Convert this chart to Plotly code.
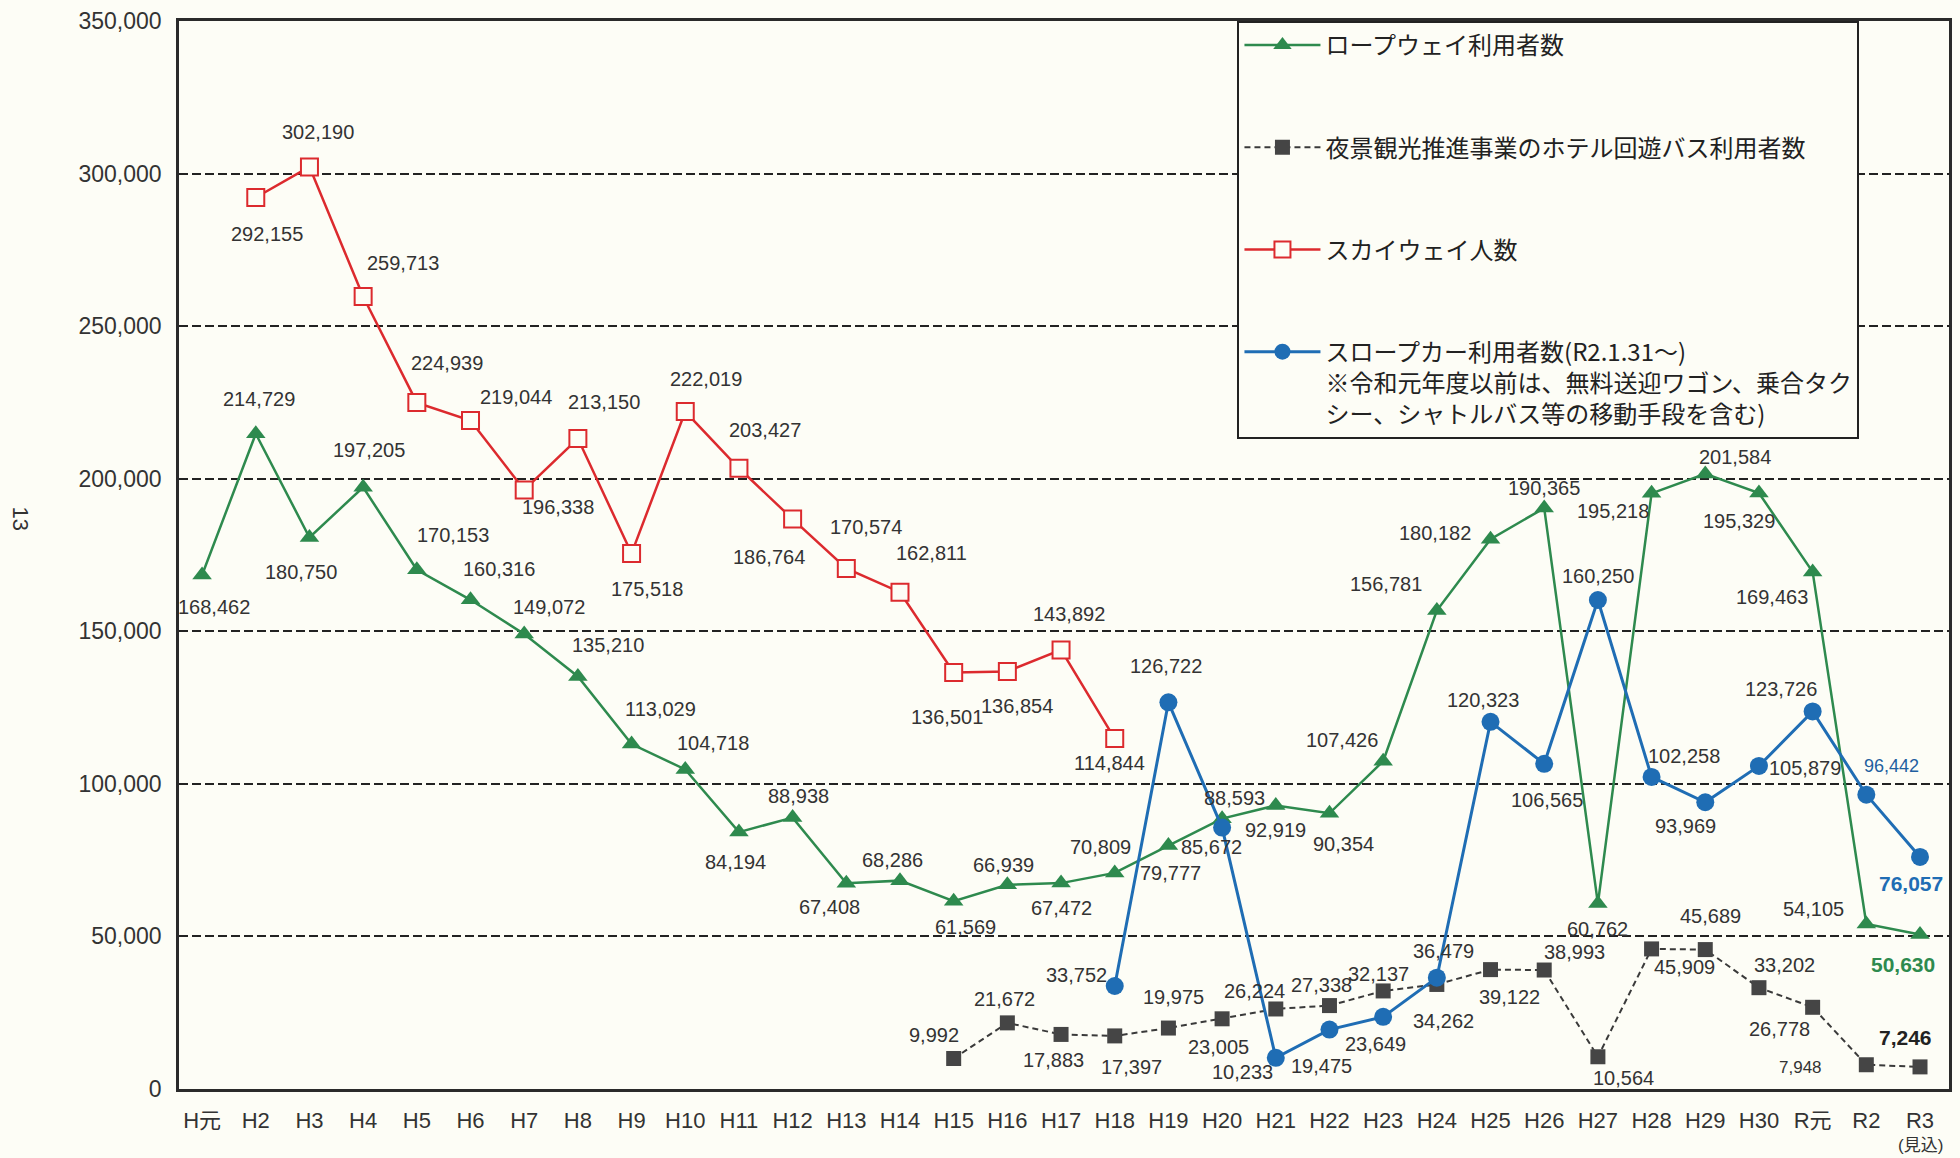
import plotly.graph_objects as go

# ---------------- data ----------------
categories = ["H元", "H2", "H3", "H4", "H5", "H6", "H7", "H8", "H9", "H10",
              "H11", "H12", "H13", "H14", "H15", "H16", "H17", "H18", "H19", "H20",
              "H21", "H22", "H23", "H24", "H25", "H26", "H27", "H28", "H29", "H30",
              "R元", "R2", "R3"]

ropeway = [168462, 214729, 180750, 197205, 170153, 160316, 149072, 135210, 113029, 104718,
           84194, 88938, 67408, 68286, 61569, 66939, 67472, 70809, 79777, 88593,
           92919, 90354, 107426, 156781, 180182, 190365, 60762, 195218, 201584, 195329,
           169463, 54105, 50630]

hotel_bus = [None, None, None, None, None, None, None, None, None, None,
             None, None, None, None, 9992, 21672, 17883, 17397, 19975, 23005,
             26224, 27338, 32137, 34262, 39122, 38993, 10564, 45909, 45689, 33202,
             26778, 7948, 7246]

skyway = [None, 292155, 302190, 259713, 224939, 219044, 196338, 213150, 175518, 222019,
          203427, 186764, 170574, 162811, 136501, 136854, 143892, 114844, None, None,
          None, None, None, None, None, None, None, None, None, None,
          None, None, None]

slopecar = [None, None, None, None, None, None, None, None, None, None,
            None, None, None, None, None, None, None, 33752, 126722, 85672,
            10233, 19475, 23649, 36479, 120323, 106565, 160250, 102258, 93969, 105879,
            123726, 96442, 76057]

names = ["ロープウェイ利用者数",
         "夜景観光推進事業のホテル回遊バス利用者数",
         "スカイウェイ人数",
         "スロープカー利用者数(R2.1.31～)<br>※令和元年度以前は、無料送迎ワゴン、乗合タク<br>シー、シャトルバス等の移動手段を含む)"]

y_ticks = [0, 50000, 100000, 150000, 200000, 250000, 300000, 350000]

# ---------------- label offsets (px: right, down) ----------------
off_rope = [(12, 32), (3, -35), (-8, 35), (6, -37), (36, -35), (28, -31), (25, -27), (30, -31), (29, -35), (28, -26),
            (-3, 30), (6, -22), (-17, 24), (-7, -21), (12, 26), (-4, -20), (0, 25), (-14, -26), (2, 27), (12, -21),
            (0, 25), (14, 31), (-41, -21), (-51, -27), (-56, -6), (0, -20), (0, 25), (-39, 18), (30, -17), (-20, 28),
            (-41, 25), (-53, -15), (-17, 30)]
off_bus = [None] * 14 + [(-20, -24), (-3, -24), (-8, 26), (17, 31), (5, -31), (-4, 28),
                         (-21, -18), (-8, -21), (-5, -17), (7, 37), (19, 27), (30, -18), (26, 21), (33, 18),
                         (5, -34), (26, -23), (-33, 22), (-66, 3), (-15, -29)]
off_sky = [None, (11, 36), (9, -35), (40, -34), (30, -40), (45, -24), (34, 17), (26, -37), (15, 36), (21, -33),
           (26, -38), (-24, 38), (20, -42), (32, -39), (-7, 45), (10, 35), (8, -36), (-5, 24)] + [None] * 15
off_slope = [None] * 17 + [(-38, -11), (-2, -36), (-11, 19), (-33, 14), (-8, 36), (-8, 27), (7, -27),
                           (-8, -22), (3, 36), (0, -24), (32, -21), (-20, 24), (46, 2), (-32, -22),
                           (25, -29), (-9, 27)]

GREEN = "#2e8a4e"
RED = "#dc2a2e"
BLUE = "#1f6db4"
DARK = "#3a3a3a"
BG = "#fdfdf6"
TXT = "#333333"
FONT = "Liberation Sans, Arial, Noto Sans CJK JP, sans-serif"

fig = go.Figure()

fig.add_trace(go.Scatter(
    x=categories, y=ropeway, name=names[0], mode="lines+markers", legendgroup="a",
    line=dict(color=GREEN, width=2.5),
    marker=dict(symbol="triangle-up", size=17, color=GREEN)))
fig.add_trace(go.Scatter(
    x=categories, y=hotel_bus, name=names[1], mode="lines+markers", legendgroup="b",
    line=dict(color=DARK, width=2, dash="6px,4px"),
    marker=dict(symbol="square", size=15, color="#454545")))
fig.add_trace(go.Scatter(
    x=categories, y=skyway, name=names[2], mode="lines+markers", legendgroup="c",
    line=dict(color=RED, width=2.5),
    marker=dict(symbol="square", size=17, color=BG, line=dict(color=RED, width=2))))
fig.add_trace(go.Scatter(
    x=categories, y=slopecar, name=names[3], mode="lines+markers", legendgroup="d",
    line=dict(color=BLUE, width=3),
    marker=dict(symbol="circle", size=18, color=BLUE)))

special = {
    ("slope", 31): dict(color="#1f5fa0", size=18),
    ("slope", 32): dict(color=BLUE, size=21, weight="bold"),
    ("rope", 32): dict(color=GREEN, size=21, weight="bold"),
    ("bus", 32): dict(color="#222222", size=21, weight="bold"),
    ("bus", 31): dict(color=TXT, size=17),
}

annotations = []
for key, vals, offs in [("rope", ropeway, off_rope), ("bus", hotel_bus, off_bus),
                        ("sky", skyway, off_sky), ("slope", slopecar, off_slope)]:
    for i, (v, o) in enumerate(zip(vals, offs)):
        if v is None or o is None:
            continue
        st = special.get((key, i), {})
        font = dict(family=FONT, size=st.get("size", 20), color=st.get("color", TXT))
        if st.get("weight"):
            font["weight"] = st["weight"]
        annotations.append(dict(
            x=categories[i], y=v, xref="x", yref="y", text=f"{v:,}", showarrow=False,
            xshift=o[0], yshift=-o[1], font=font))

annotations.append(dict(x=categories[-1], y=-0.053, xref="x", yref="paper", text="(見込)",
                        xanchor="center", yanchor="middle", showarrow=False,
                        font=dict(family=FONT, size=17, color=TXT)))
annotations.append(dict(x=-0.0897, y=0.534, xref="paper", yref="paper", text="13",
                        xanchor="center", yanchor="middle",
                        showarrow=False, textangle=90, font=dict(family=FONT, size=22, color=TXT)))

fig.update_layout(
    width=1960, height=1158,
    margin=dict(l=179, r=8, t=15, b=69),
    paper_bgcolor=BG, plot_bgcolor=BG,
    font=dict(family=FONT, color=TXT),
    showlegend=True,
    legend=dict(x=0.598, y=1.0, xanchor="left", yanchor="top", bgcolor=BG,
                bordercolor="#222222", borderwidth=2, traceorder="grouped",
                tracegroupgap=68, itemwidth=76, valign="top",
                font=dict(family="Noto Sans CJK JP, Liberation Sans, sans-serif", size=24, color="#222222")),
    annotations=annotations,
)
fig.update_xaxes(type="category", range=[-0.43, 32.54], showgrid=False, ticks="",
                 showline=True, mirror=True, linecolor="#2a2a2a", linewidth=2.5,
                 tickfont=dict(family=FONT, size=22, color=TXT), ticklabelstandoff=10)
fig.update_yaxes(range=[0, 350000], tickvals=y_ticks, tickformat=",", showgrid=True,
                 gridcolor="#222222", gridwidth=2, griddash="9px,4px", zeroline=False,
                 showline=True, mirror=True, linecolor="#2a2a2a", linewidth=2.5, ticks="",
                 tickfont=dict(family=FONT, size=23, color=TXT), ticklabelstandoff=10)

fig.write_html("out.html", config={"displayModeBar": False},
               post_script="document.body.style.margin='0';")
